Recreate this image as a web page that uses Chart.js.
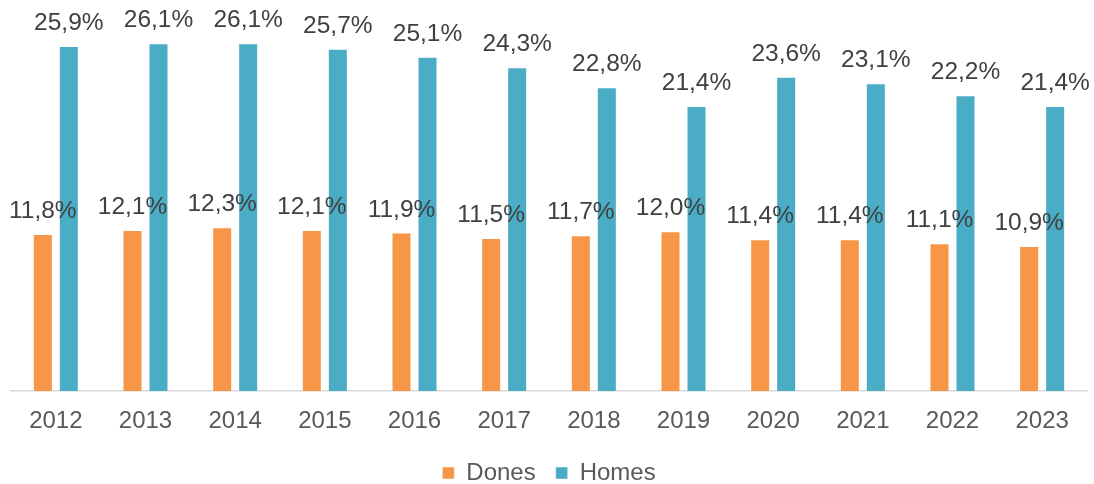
<!DOCTYPE html>
<html>
<head>
<meta charset="utf-8">
<script src="https://cdn.jsdelivr.net/npm/chart.js@4"></script>
<style>
html,body{margin:0;padding:0;background:#fff;}
#wrap{width:1094px;height:484px;position:relative;}
</style>
</head>
<body>
<div id="wrap"><canvas id="c" width="1094" height="484"></canvas></div>
<script>
const years = ['2012','2013','2014','2015','2016','2017','2018','2019','2020','2021','2022','2023'];
const dones = [11.8, 12.1, 12.3, 12.1, 11.9, 11.5, 11.7, 12.0, 11.4, 11.4, 11.1, 10.9];
const homes = [25.9, 26.1, 26.1, 25.7, 25.1, 24.3, 22.8, 21.4, 23.6, 23.1, 22.2, 21.4];
const seriesNames = ['Dones', 'Homes'];
const FONT = '"Liberation Sans", Arial, sans-serif';

const labelPlugin = {
  id: 'valLabels',
  afterDatasetsDraw(chart) {
    const ctx = chart.ctx;
    ctx.save();
    ctx.font = '24.5px ' + FONT;
    ctx.fillStyle = '#404040';
    ctx.textAlign = 'center';
    ctx.textBaseline = 'alphabetic';
    chart.data.datasets.forEach((ds, i) => {
      const meta = chart.getDatasetMeta(i);
      meta.data.forEach((bar, j) => {
        const txt = ds.data[j].toFixed(1).replace('.', ',') + '%';
        ctx.fillText(txt, bar.x, bar.y - 16);
      });
    });
    ctx.restore();
  }
};

new Chart(document.getElementById('c'), {
  type: 'bar',
  data: {
    labels: years,
    datasets: [
      { label: seriesNames[0], data: dones, backgroundColor: '#F79646', borderColor: 'rgba(255,255,255,0.45)', borderWidth: 1, categoryPercentage: 0.58, barPercentage: 0.77 },
      { label: seriesNames[1], data: homes, backgroundColor: '#4BACC6', borderColor: 'rgba(255,255,255,0.45)', borderWidth: 1, categoryPercentage: 0.58, barPercentage: 0.77 }
    ]
  },
  options: {
    responsive: false,
    animation: false,
    layout: { padding: { left: 11, right: 7, top: 18, bottom: -11 } },
    plugins: {
      legend: {
        position: 'bottom',
        labels: { font: { family: FONT, size: 24 }, color: '#595959', boxWidth: 12, boxHeight: 12, padding: 20 }
      },
      tooltip: { enabled: false }
    },
    scales: {
      x: {
        grid: { display: false, drawTicks: false },
        border: { display: true, color: '#D9D9D9', width: 1.5 },
        ticks: { font: { family: FONT, size: 24 }, color: '#595959', padding: 16 },
        afterFit: (scale) => { scale.height = scale.height - 11; }
      },
      y: { display: false, min: 0, max: 28 }
    }
  },
  plugins: [labelPlugin]
});
</script>
</body>
</html>
